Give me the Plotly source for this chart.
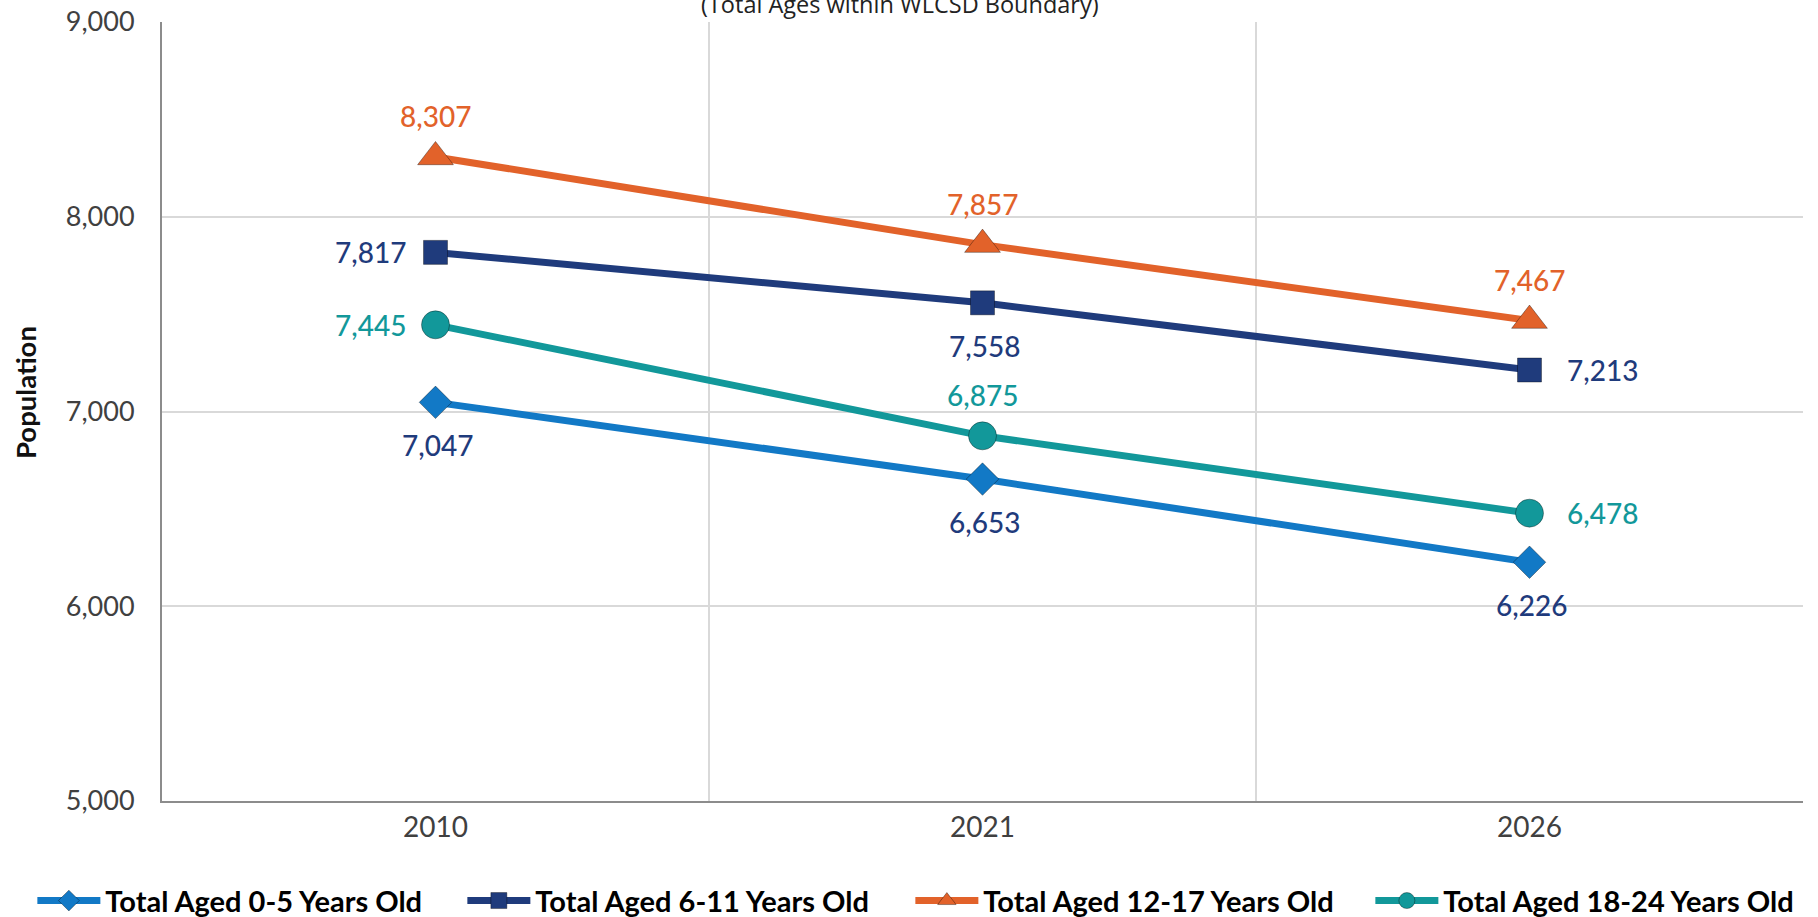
import plotly.graph_objects as go

years = ["2010", "2021", "2026"]
series_names = [
    "Total Aged 0-5 Years Old",
    "Total Aged 6-11 Years Old",
    "Total Aged 12-17 Years Old",
    "Total Aged 18-24 Years Old",
]
aged_0_5 = [7047, 6653, 6226]
aged_6_11 = [7817, 7558, 7213]
aged_12_17 = [8307, 7857, 7467]
aged_18_24 = [7445, 6875, 6478]
y_ticks = [5000, 6000, 7000, 8000, 9000]

values = [aged_0_5, aged_6_11, aged_12_17, aged_18_24]
line_colors = ["#1279C6", "#1F3B7C", "#E2622A", "#12989A"]
label_colors = ["#1F3B7C", "#1F3B7C", "#E2622A", "#12989A"]
symbols = ["diamond", "square", "triangle-up", "circle"]
marker_sizes = [25, 24, 31, 28]
legend_widths = [352, 370, 382, 360]
# label placement per point: T top, B bottom, L left, R right
placements = [
    ["B", "B", "B"],
    ["L", "B", "R"],
    ["T", "T", "T"],
    ["L", "T", "R"],
]
shift = {"T": (0, 41), "B": (2, -43), "L": (-65, 0), "R": (73, 0)}

fig = go.Figure()
for name, vals, lc, sym, ms, lw in zip(series_names, values, line_colors, symbols,
                                       marker_sizes, legend_widths):
    fig.add_trace(go.Scatter(
        x=years, y=vals, name=name, mode="lines+markers",
        line=dict(color=lc, width=7),
        marker=dict(symbol=sym, size=ms, color=lc,
                    line=dict(color="rgba(0,0,0,0.35)", width=1)),
        legendwidth=lw,
    ))

annotations = []
for vals, tc, pl in zip(values, label_colors, placements):
    for i, (v, p) in enumerate(zip(vals, pl)):
        dx, dy = shift[p]
        annotations.append(dict(
            x=i, y=v, xref="x", yref="y", text=f"{v:,}", showarrow=False,
            xshift=dx, yshift=dy, xanchor="center", yanchor="middle",
            font=dict(family="Lato", size=28, color=tc, weight=500),
        ))

annotations.append(dict(
    x=0.45, y=1.0, xref="paper", yref="paper", yshift=0,
    text="(Total Ages within WLCSD Boundary)", showarrow=False,
    xanchor="center", yanchor="bottom",
    font=dict(family="Open Sans", size=23.5, color="#222222"),
))
annotations.append(dict(
    x=-0.0835, y=0.525, xref="paper", yref="paper",
    text="<b>Population</b>", showarrow=False, textangle=-90,
    xanchor="center", yanchor="middle",
    font=dict(family="Lato", size=27.5, color="#111111"),
))

fig.update_layout(
    width=1818, height=917,
    margin=dict(l=162, r=15, t=22, b=116, autoexpand=False),
    plot_bgcolor="white", paper_bgcolor="white",
    showlegend=True,
    legend=dict(orientation="h", x=-0.079, y=-0.128, xanchor="left", yanchor="middle",
                font=dict(family="Lato", size=29, color="#000000", weight="bold"),
                itemwidth=63, tracegroupgap=0),
    annotations=annotations,
    xaxis=dict(type="category", range=[-0.5, 2.5], tickson="boundaries",
               showgrid=True, gridcolor="#D9D9D9", gridwidth=1.5,
               showline=True, linecolor="#8C8C8C", linewidth=2,
               ticks="outside", ticklen=18, tickcolor="rgba(0,0,0,0)",
               tickfont=dict(family="Lato", size=28, color="#404040")),
    yaxis=dict(range=[5000, 9000], tickvals=y_ticks, tickformat=",",
               showgrid=True, gridcolor="#D9D9D9", gridwidth=1.5,
               showline=True, linecolor="#8C8C8C", linewidth=2, zeroline=False,
               ticks="outside", ticklen=20, tickcolor="rgba(0,0,0,0)",
               tickfont=dict(family="Lato", size=27, color="#404040")),
)

fig.write_html("out.html", config={"displayModeBar": False},
               post_script="document.body.style.margin='0';")
